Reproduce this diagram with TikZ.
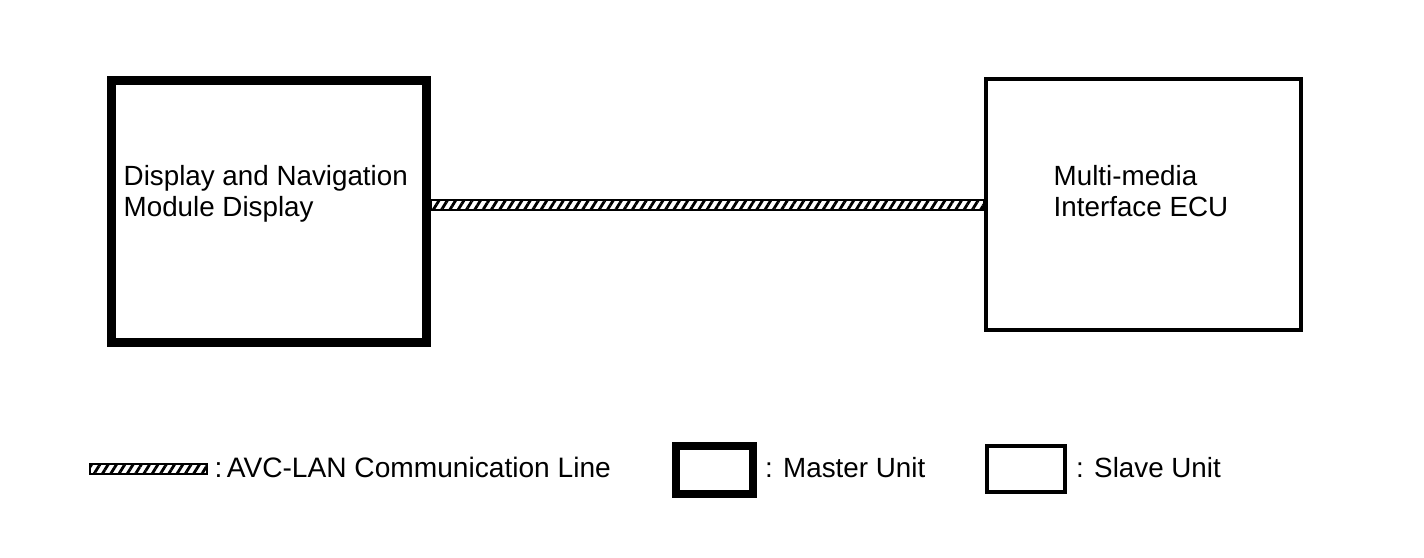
\documentclass[tikz,border=0pt]{standalone}
\usepackage{fontspec}
\setmainfont{Liberation Sans}
\usetikzlibrary{patterns.meta}

\begin{document}
\begin{tikzpicture}[x=0.01cm, y=-0.01cm,
  master/.style={draw, line width=0.09cm, inner sep=0pt},
  slave/.style={draw, line width=0.04cm, inner sep=0pt},
  avcline/.style={draw, line width=0.02cm,
    pattern={Lines[angle=58, distance=2pt, line width=0.8pt]}},
  lbl/.style={font=\fontsize{7.9}{9}\selectfont, inner sep=0pt, align=left, anchor=base west}]
\useasboundingbox (0,0) rectangle (1424,558);
\node[master, minimum width=3.15cm, minimum height=2.62cm] (dnm) at (269, 211.5) {};
\node[slave, minimum width=3.15cm, minimum height=2.505cm] (mmi) at (1143.5, 204.75) {};
\node[lbl] (dnmtxt) at (123, 216.7) {Display and Navigation\\Module Display};
\node[lbl] (mmitxt) at (1053, 216.7) {Multi-media\\Interface ECU};
\draw[avcline] ([yshift=0.05cm]dnm.east |- mmi.west) rectangle ([yshift=-0.055cm]mmi.west);
% legend
\node[avcline, minimum width=1.164cm, minimum height=0.097cm, inner sep=0pt] (keyline) at (148.5, 469.2) {};
\node[lbl, font=\fontsize{8}{9}\selectfont] (keylinetxt) at (214, 478) {:\kern-1pt\ AVC-LAN Communication Line};
\node[master, line width=0.08cm, minimum width=0.77cm, minimum height=0.475cm] (keymaster) at (714.5, 469.75) {};
\node[lbl] (keymastertxt) at (764.5, 478) {: Master Unit};
\node[slave, minimum width=0.78cm, minimum height=0.46cm] (keyslave) at (1026, 469) {};
\node[lbl] (keyslavetxt) at (1075.5, 478) {: Slave Unit};
\end{tikzpicture}
\end{document}
